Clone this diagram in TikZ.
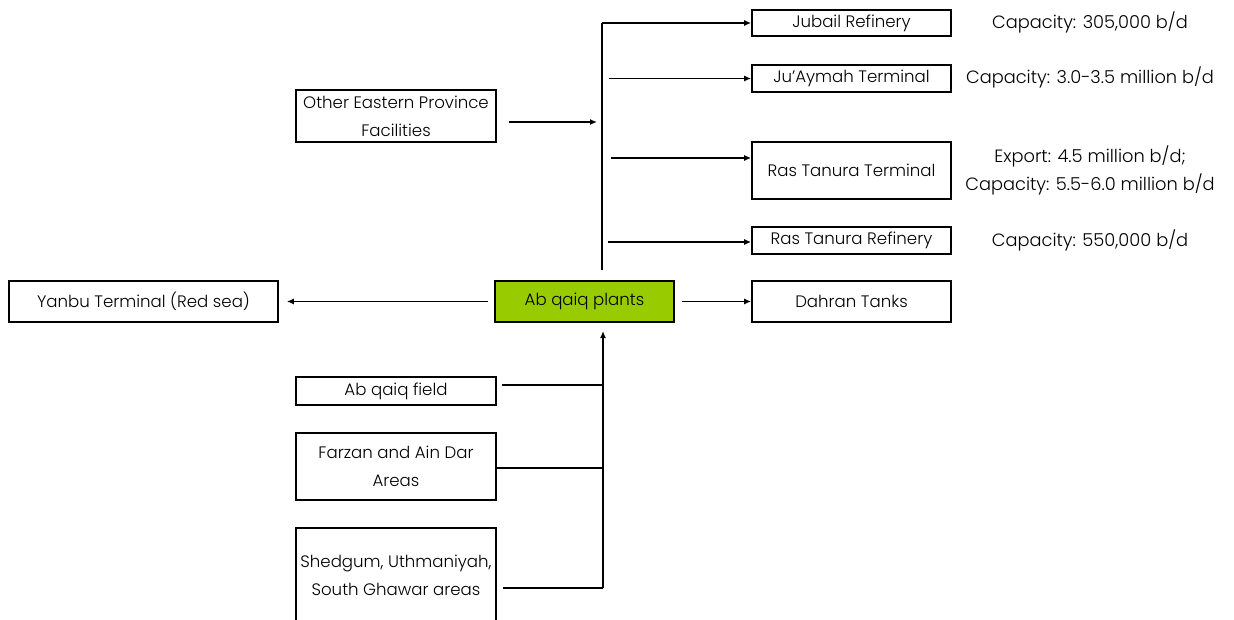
\documentclass[tikz,border=0pt]{standalone}
\usepackage{fontspec}
\setmainfont{Poppins Light}
\usetikzlibrary{arrows.meta}
\definecolor{abqgreen}{RGB}{153,204,0}
\begin{document}
\begin{tikzpicture}[x=1pt,y=-1pt,
  box/.style={draw,line width=1.6pt,inner sep=0pt,align=center,font=\fontsize{16.6}{28}\selectfont},
  note/.style={inner sep=0pt,align=center,font=\fontsize{17.8}{28}\selectfont},
  conn/.style={line width=1.4pt},
  arr/.style={line width=1.4pt,-{Latex[length=7pt,width=6pt]}}]
\useasboundingbox (0,0) rectangle (1234,620);
% boxes
\node[box,minimum width=199pt,minimum height=26pt] (jub) at (851.5,23) {Jubail Refinery};
\node[box,minimum width=199pt,minimum height=27pt] (juay) at (851.5,78.5) {Ju'Aymah Terminal};
\node[box,minimum width=199pt,minimum height=57pt] (rtt) at (851.5,170.5) {Ras Tanura Terminal};
\node[box,minimum width=199pt,minimum height=27pt] (rtr) at (851.5,240.5) {Ras Tanura Refinery};
\node[box,minimum width=199pt,minimum height=41pt] (dah) at (851.5,301.5) {Dahran Tanks};
\node[box,fill=abqgreen,minimum width=179pt,minimum height=41pt] (abq) at (584.5,301.5) {Ab qaiq plants};
\node[box,minimum width=269pt,minimum height=41pt] (yan) at (143.5,301.5) {Yanbu Terminal (Red sea)};
\node[box,minimum width=200pt,minimum height=52pt] (oth) at (396,116) {Other Eastern Province\\Facilities};
\node[box,minimum width=200pt,minimum height=28pt] (abf) at (396,391) {Ab qaiq field};
\node[box,minimum width=200pt,minimum height=67pt] (far) at (396,466.5) {Farzan and Ain Dar\\Areas};
\node[box,minimum width=200pt,minimum height=94pt] (she) at (396,575) {Shedgum, Uthmaniyah,\\South Ghawar areas};
% notes
\node[note] (n1) at (1090,22) {Capacity: 305,000 b/d};
\node[note] (n2) at (1090,77) {Capacity: 3.0-3.5 million b/d};
\node[note] (n3) at (1090,170) {Export: 4.5 million b/d;\\Capacity: 5.5-6.0 million b/d};
\node[note] (n4) at (1090,240) {Capacity: 550,000 b/d};
% upper trunk
\coordinate (ttop) at (602,23);
\coordinate (tbot) at (602,270);
\coordinate (s2) at (609,78.5);
\coordinate (s3) at (611,158);
\coordinate (s4) at (608,242);
\coordinate (o1) at (509,122);
\coordinate (o2) at (597,122);
\draw[conn] (ttop) -- (tbot);
\draw[arr] (ttop) -- (jub.west);
\draw[arr] (s2) -- (juay.west);
\draw[arr] (s3) -- (s3 -| rtt.west);
\draw[arr] (s4) -- (s4 -| rtr.west);
\draw[arr] (o1) -- (o2);
% middle
\draw[arr,shorten <=7pt] (abq.east) -- (dah.west);
\draw[arr,shorten <=6pt,shorten >=8pt] (abq.west) -- (yan.east);
% lower trunk
\coordinate (bbot) at (603,588);
\coordinate (btop) at (603,331);
\draw[arr] (bbot) -- (btop);
\draw[conn] (abf.east) ++(5,-6) -- (603,385);
\draw[conn] (far.east) ++(0,1.5) -- (603,468);
\draw[conn] (she.east) ++(6,13) -- (bbot);
\end{tikzpicture}
\end{document}
